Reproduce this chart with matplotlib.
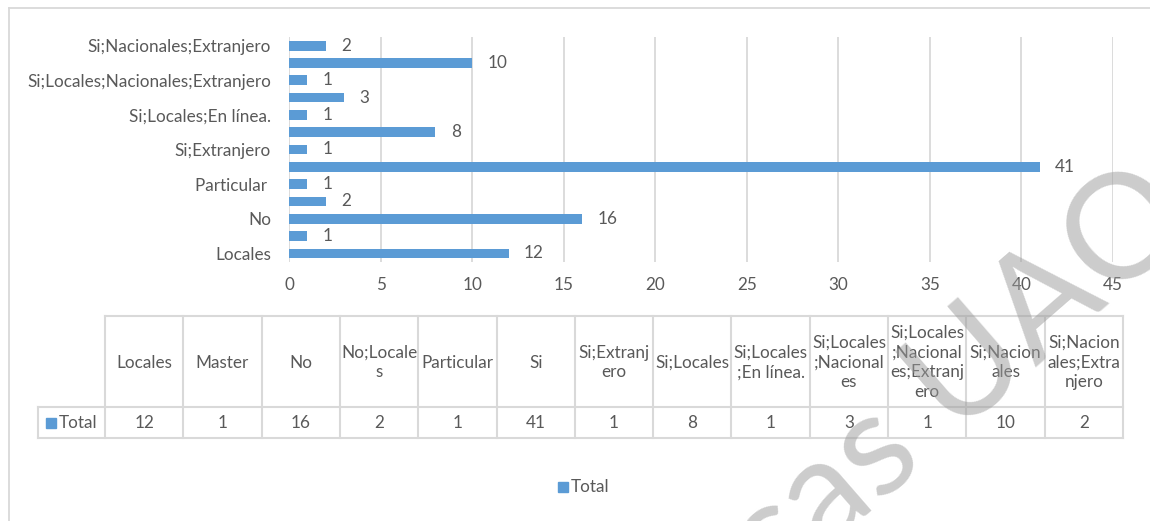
import matplotlib
matplotlib.use("Agg")
import matplotlib.pyplot as plt
import numpy as np

# ---- data ----
categories = ["Locales", "Master", "No", "No;Locales", "Particular ", "Si",
              "Si;Extranjero", "Si;Locales", "Si;Locales;En línea.",
              "Si;Locales;Nacionales", "Si;Locales;Nacionales;Extranjero",
              "Si;Nacionales", "Si;Nacionales;Extranjero"]
totals = [12, 1, 16, 2, 1, 41, 1, 8, 1, 3, 1, 10, 2]
table_headers = ["Locales", "Master", "No", "No;Locale\ns", "Particular", "Si",
                 "Si;Extranj\nero", "Si;Locales", "Si;Locales\n;En línea.",
                 "Si;Locales\n;Nacional\nes", "Si;Locales\n;Nacional\nes;Extranj\nero",
                 "Si;Nacion\nales", "Si;Nacion\nales;Extra\nnjero"]
series_name = "Total"
x_ticks = list(range(0, 46, 5))
watermark = "Bibliotecas UAQ"

# ---- style ----
plt.rcParams['font.family'] = ['Lato', 'DejaVu Sans']
TXT = '#595959'
GRID = '#d9d9d9'
BAR = '#5b9bd5'
FS = 12.3

W, H = 1150, 521
fig = plt.figure(figsize=(W / 100, H / 100), dpi=100)


def fx(p):
    return p / W


def fy(p):
    return 1 - p / H


# ---- bar chart ----
ax = fig.add_axes([fx(289), fy(262), fx(1113) - fx(289), fy(37) - fy(262)])
ypos = np.arange(len(categories))
ax.barh(ypos, totals, height=0.56, color=BAR, zorder=3)
ax.set_xlim(0, 45)
ax.set_ylim(-0.5, len(categories) - 0.5)
ax.set_xticks(x_ticks)
ax.set_yticks(ypos[::2])
ax.set_yticklabels(categories[::2])
ax.tick_params(axis='both', length=0, labelsize=FS, colors=TXT)
ax.tick_params(axis='y', pad=13)
ax.tick_params(axis='x', pad=11)
ax.grid(axis='x', color=GRID, linewidth=1.3, zorder=0)
for s in ax.spines.values():
    s.set_visible(False)
for yi, v in zip(ypos, totals):
    ax.annotate(str(v), (v, yi), xytext=(11, 0), textcoords='offset points',
                ha='left', va='center', fontsize=FS, color=TXT)

# ---- overlay (table, legend, frame) in pixel coords ----
ov = fig.add_axes([0, 0, 1, 1], zorder=5)
ov.set_xlim(0, W)
ov.set_ylim(H, 0)
ov.axis('off')
ov.patch.set_alpha(0)

# outer frame
ov.plot([9, W], [7.5, 7.5], color=GRID, lw=1.3)
ov.plot([9, 9], [7.5, H], color=GRID, lw=1.3)

# table
t_left, t_col0, t_right = 38, 105, 1123
t_top, t_mid, t_bot = 316, 407, 438
cols = np.linspace(t_col0, t_right, len(categories) + 1)
lw = 1.5
ov.plot([t_col0, t_right], [t_top, t_top], color=GRID, lw=lw)
ov.plot([t_left, t_right], [t_mid, t_mid], color=GRID, lw=lw)
ov.plot([t_left, t_right], [t_bot, t_bot], color=GRID, lw=lw)
ov.plot([t_left, t_left], [t_mid, t_bot], color=GRID, lw=lw)
for c in cols:
    ov.plot([c, c], [t_top, t_bot], color=GRID, lw=lw)
for i, (hdr, v) in enumerate(zip(table_headers, totals)):
    cx = (cols[i] + cols[i + 1]) / 2
    ov.text(cx, (t_top + t_mid) / 2 + 1, hdr, ha='center', va='center',
            fontsize=FS, color=TXT, linespacing=1.3)
    ov.text(cx, (t_mid + t_bot) / 2, str(v), ha='center', va='center',
            fontsize=FS, color=TXT)
# row header with legend key
ov.add_patch(plt.Rectangle((46, 418), 10, 10, color=BAR))
ov.text(59, (t_mid + t_bot) / 2, series_name, ha='left', va='center',
        fontsize=FS, color=TXT)

# legend
ov.add_patch(plt.Rectangle((558, 482), 10, 10, color=BAR))
ov.text(571, 487, series_name, ha='left', va='center', fontsize=FS, color=TXT)

# watermark
ov.text(1172, 196, watermark, ha='right', va='center', rotation=41,
        rotation_mode='anchor', fontsize=105, color='#9a9a9a', alpha=0.5,
        zorder=20)

fig.savefig("out.png", dpi=100)
